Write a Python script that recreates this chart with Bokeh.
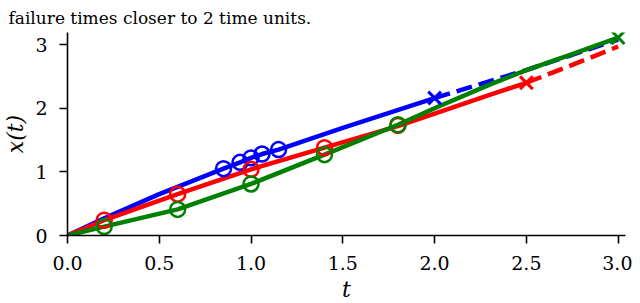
from bokeh.plotting import figure
from bokeh.models import Range1d, FixedTicker, Title, CustomJSTickFormatter
from bokeh.embed import file_html
from bokeh.resources import INLINE

# ---- data ----
caption = "failure times closer to 2 time units."

blue_t = [0, 0.2, 0.5, 0.85, 0.94, 1.0, 1.06, 1.15, 1.5, 2.0]
blue_x = [0, 0.27, 0.65, 1.05, 1.15, 1.22, 1.28, 1.35, 1.69, 2.16]
blue_obs_t = [0.85, 0.94, 1.0, 1.06, 1.15]
blue_obs_x = [1.05, 1.15, 1.22, 1.28, 1.35]
blue_fail_t = [2.0]
blue_fail_x = [2.16]
blue_ext_t = [2.0, 2.5, 3.0]
blue_ext_x = [2.16, 2.6, 3.08]

red_t = [0, 0.2, 0.6, 1.0, 1.4, 1.8, 2.3, 2.5]
red_x = [0, 0.24, 0.65, 1.04, 1.38, 1.72, 2.21, 2.40]
red_obs_t = [0.2, 0.6, 1.0, 1.4, 1.8]
red_obs_x = [0.24, 0.65, 1.04, 1.38, 1.73]
red_fail_t = [2.5]
red_fail_x = [2.40]
red_ext_t = [2.5, 2.75, 3.0]
red_ext_x = [2.40, 2.68, 2.97]

green_t = [0, 0.2, 0.6, 1.0, 1.4, 1.8, 2.0, 2.3, 2.5, 2.75, 3.0]
green_x = [0, 0.14, 0.41, 0.81, 1.27, 1.74, 2.0, 2.37, 2.6, 2.85, 3.11]
green_obs_t = [0.2, 0.6, 1.0, 1.4, 1.8]
green_obs_x = [0.14, 0.41, 0.81, 1.27, 1.74]
green_fail_t = [3.0]
green_fail_x = [3.11]

x_ticks = [0.0, 0.5, 1.0, 1.5, 2.0, 2.5, 3.0]
y_ticks = [0, 1, 2, 3]

BLUE = "#0000ff"
RED = "#ff0000"
GREEN = "#008000"
SERIF = "DejaVu Serif"

p = figure(frame_width=558, frame_height=203, output_backend="svg", toolbar_location=None,
           x_range=Range1d(0, 3.04), y_range=Range1d(0, 3.19),
           min_border_left=59, min_border_right=7, min_border_bottom=52, min_border_top=25)

p.title = Title(text=caption, align="left", offset=-59, standoff=10,
                text_font=SERIF, text_font_size="17px", text_font_style="normal",
                text_color="black")

p.grid.visible = False
p.outline_line_color = None
p.background_fill_color = "white"
p.border_fill_color = "white"

for ax in (p.xaxis[0], p.yaxis[0]):
    ax.axis_line_width = 1.6
    ax.axis_line_color = "black"
    ax.major_tick_line_width = 1.6
    ax.major_tick_line_color = "black"
    ax.major_tick_out = 8
    ax.major_tick_in = 0
    ax.minor_tick_line_color = None
    ax.major_label_text_font = SERIF
    ax.major_label_text_font_size = "19px"
    ax.major_label_text_color = "black"
    ax.axis_label_text_font = SERIF
    ax.axis_label_text_font_style = "italic"
    ax.axis_label_text_font_size = "22px"
    ax.axis_label_text_color = "black"

p.xaxis.ticker = FixedTicker(ticks=x_ticks)
p.yaxis.ticker = FixedTicker(ticks=y_ticks)
p.xaxis.formatter = CustomJSTickFormatter(code="return tick.toFixed(1);")
p.yaxis.formatter = CustomJSTickFormatter(code="return tick.toFixed(0);")
p.xaxis.major_label_standoff = 12
p.yaxis.major_label_standoff = 12
p.xaxis.axis_label = "t"
p.yaxis.axis_label = "x(t)"
p.xaxis.axis_label_standoff = 4
p.yaxis.axis_label_standoff = 4

LW = 4.5
DASH = "16 7"

# blue
p.line(blue_t, blue_x, line_color=BLUE, line_width=LW)
p.line(blue_ext_t, blue_ext_x, line_color=BLUE, line_width=LW, line_dash=DASH)
# red
p.line(red_t, red_x, line_color=RED, line_width=LW)
p.line(red_ext_t, red_ext_x, line_color=RED, line_width=LW, line_dash=DASH)
# green
p.line(green_t, green_x, line_color=GREEN, line_width=LW)

# observations
p.scatter(blue_obs_t, blue_obs_x, marker="circle", size=15, fill_color=None,
          line_color=BLUE, line_width=2.5)
p.scatter(red_obs_t, red_obs_x, marker="circle", size=15, fill_color=None,
          line_color=RED, line_width=2.5)
p.scatter(green_obs_t, green_obs_x, marker="circle", size=15, fill_color=None,
          line_color=GREEN, line_width=2.5)

# failures
p.scatter(blue_fail_t, blue_fail_x, marker="x", size=18, line_color=BLUE, line_width=3)
p.scatter(red_fail_t, red_fail_x, marker="x", size=18, line_color=RED, line_width=3)
p.scatter(green_fail_t, green_fail_x, marker="x", size=18, line_color=GREEN, line_width=3)

open("out.html", "w").write(file_html(p, INLINE))
